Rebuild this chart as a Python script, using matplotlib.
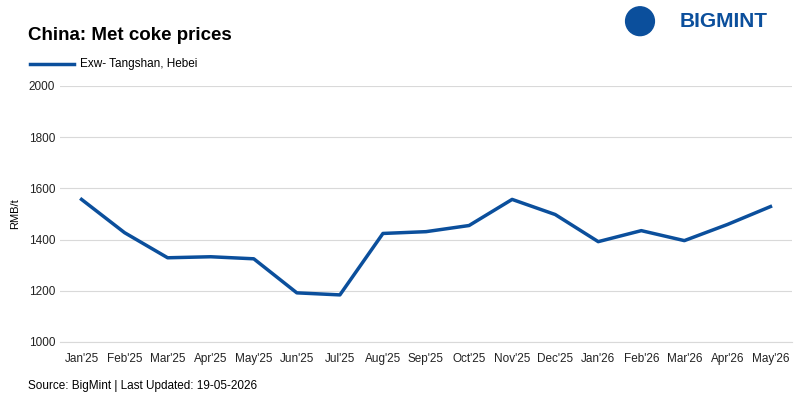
import matplotlib.pyplot as plt
from matplotlib.patches import Ellipse

months = ["Jan'25", "Feb'25", "Mar'25", "Apr'25", "May'25", "Jun'25", "Jul'25", "Aug'25", "Sep'25",
          "Oct'25", "Nov'25", "Dec'25", "Jan'26", "Feb'26", "Mar'26", "Apr'26", "May'26"]
prices = [1557, 1427, 1329, 1333, 1325, 1192, 1184, 1424, 1431, 1455, 1557, 1498, 1392, 1435, 1396, 1459, 1529]

plt.rcParams['font.family'] = ['Liberation Sans', 'DejaVu Sans']

fig = plt.figure(figsize=(8, 4), dpi=100)
ax = fig.add_axes([0.075, 0.145, 0.915, 0.64])
color = '#0b4f9c'
ax.plot(range(len(months)), prices, color=color, lw=2.5)
ax.set_ylim(1000, 2000)
ax.set_yticks(range(1000, 2001, 200))
ax.set_xlim(-0.5, len(months) - 0.5)
ax.set_xticks(range(len(months)))
ax.set_xticklabels(months)
ax.tick_params(labelsize=8.5, length=0, colors='#222222')
ax.tick_params(axis='x', pad=8)
ax.grid(axis='y', color='#d9d9d9', lw=0.8)
ax.set_axisbelow(True)
for s in ax.spines.values():
    s.set_visible(False)
ax.spines['bottom'].set_visible(True)
ax.spines['bottom'].set_color('#d9d9d9')
ax.set_ylabel('RMB/t', fontsize=8, labelpad=6)

fig.text(0.035, 0.91, 'China: Met coke prices', fontsize=13.5, fontweight='bold', va='center')
fig.lines.append(plt.Line2D([0.037, 0.093], [0.84, 0.84], transform=fig.transFigure, color=color, lw=2.5))
fig.text(0.1, 0.84, 'Exw- Tangshan, Hebei', fontsize=8.5, va='center')
fig.text(0.035, 0.035, 'Source: BigMint | Last Updated: 19-05-2026', fontsize=8.5, va='center')

fig.patches.append(Ellipse((0.8, 0.947), 0.036, 0.072, transform=fig.transFigure, color=color))
fig.text(0.96, 0.947, 'BIGMINT', fontsize=15, fontweight='bold', color=color, ha='right', va='center')

fig.savefig('out.png', dpi=100)
